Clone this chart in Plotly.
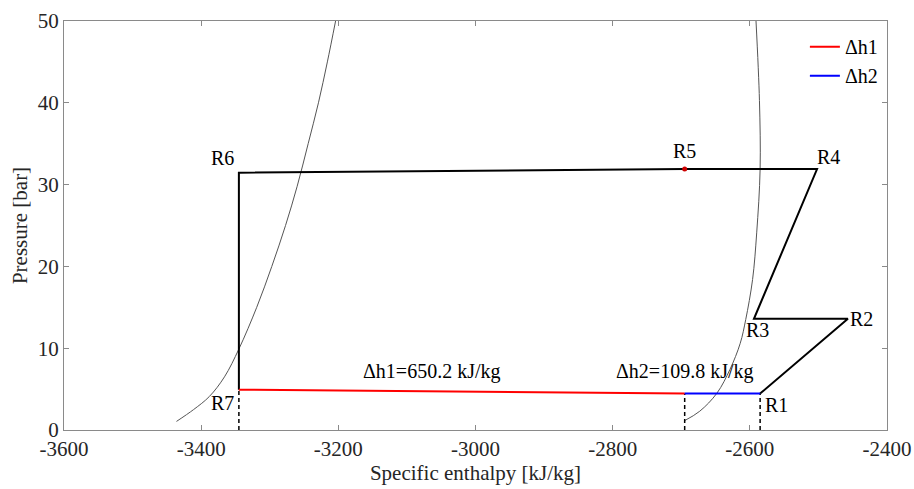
import plotly.graph_objects as go

# Refrigeration cycle state points (specific enthalpy kJ/kg, pressure bar)
state_names = ["R1", "R2", "R3", "R4", "R5", "R6", "R7"]
state_h = [-2585, -2457, -2594, -2502, -2695, -3345, -3345]
state_p = [4.45, 13.6, 13.6, 31.9, 31.9, 31.45, 4.93]

# Saturation dome: liquid (left) and vapour (right) lines
liq_h = [-3436, -3411, -3388, -3366, -3345, -3319, -3297, -3277, -3260, -3244, -3229, -3216, -3204]
liq_p = [1.05, 2.5, 4.1, 6.5, 9.9, 15.0, 20.0, 25.0, 29.8, 35.0, 40.0, 45.0, 50.0]
vap_h = [-2696, -2673, -2648, -2629, -2614, -2606, -2596, -2590, -2585, -2586, -2591]
vap_p = [1.1, 2.3, 4.5, 7.4, 10.6, 13.5, 18.4, 24.1, 31.9, 40.3, 50.0]

# Enthalpy differences
dh1_h = [-3345, -2695]
dh1_p = [4.93, 4.45]
dh2_h = [-2695, -2585]
dh2_p = [4.45, 4.45]
dh_labels = ["\u0394h1=650.2 kJ/kg", "\u0394h2=109.8 kJ/kg"]

x_ticks = [-3600, -3400, -3200, -3000, -2800, -2600, -2400]
y_ticks = [0, 10, 20, 30, 40, 50]

FONT = "Liberation Serif"
TXT = "#262626"

fig = go.Figure()

fig.add_trace(go.Scatter(x=liq_h, y=liq_p, mode="lines", line_shape="spline",
                         line=dict(color="#555555", width=1), showlegend=False, hoverinfo="skip"))
fig.add_trace(go.Scatter(x=vap_h, y=vap_p, mode="lines", line_shape="spline",
                         line=dict(color="#555555", width=1), showlegend=False, hoverinfo="skip"))

# cycle lines R1 -> R7
fig.add_trace(go.Scatter(x=state_h, y=state_p, mode="lines",
                         line=dict(color="black", width=2), showlegend=False))

# dashed verticals
for hx, py in [(state_h[6], state_p[6]), (dh2_h[0], dh2_p[0]), (state_h[0], state_p[0])]:
    fig.add_trace(go.Scatter(x=[hx, hx], y=[0, py], mode="lines",
                             line=dict(color="black", width=1.5, dash="4px,3px"), showlegend=False))

fig.add_trace(go.Scatter(x=dh1_h, y=dh1_p, mode="lines", name="\u0394h1",
                         line=dict(color="#ff0000", width=2)))
fig.add_trace(go.Scatter(x=dh2_h, y=dh2_p, mode="lines", name="\u0394h2",
                         line=dict(color="#0000ff", width=2)))

# R5 marker
fig.add_trace(go.Scatter(x=[state_h[4]], y=[state_p[4]], mode="markers",
                         marker=dict(color="#cc0000", size=5), showlegend=False))

# state labels: (xshift, yshift, xanchor, yanchor)
label_pos = {
    "R1": (3, 2, "left", "top"),
    "R2": (0, 0, "left", "middle"),
    "R3": (-10, 2, "left", "top"),
    "R4": (-2, -1, "left", "bottom"),
    "R5": (0, 5, "center", "bottom"),
    "R6": (-3, 2, "right", "bottom"),
    "R7": (-3, 0, "right", "top"),
}
for name, hx, py in zip(state_names, state_h, state_p):
    dx, dy, xa, ya = label_pos[name]
    fig.add_annotation(x=hx, y=py, text=name, showarrow=False, xshift=dx, yshift=dy,
                       xanchor=xa, yanchor=ya, font=dict(family=FONT, size=20, color="black"))

fig.add_annotation(x=-3064, y=dh1_p[0], text=dh_labels[0], showarrow=False,
                   yanchor="bottom", yshift=5, font=dict(family=FONT, size=20, color="black"))
fig.add_annotation(x=dh2_h[0], y=dh2_p[0], text=dh_labels[1], showarrow=False,
                   xanchor="center", yanchor="bottom", yshift=9, font=dict(family=FONT, size=20, color="black"))

axis_common = dict(showline=True, linecolor="#8a8a8a", linewidth=1, mirror="ticks",
                   ticks="inside", ticklen=5, tickcolor="#8a8a8a", showgrid=False, zeroline=False,
                   automargin=False, tickfont=dict(family=FONT, size=21, color=TXT))

fig.update_xaxes(range=[-3600, -2400], tickvals=x_ticks, ticktext=[str(v) for v in x_ticks],
                 title=dict(text="Specific enthalpy [kJ/kg]", font=dict(family=FONT, size=21, color=TXT), standoff=0),
                 **axis_common)
fig.update_yaxes(range=[0, 50], tickvals=y_ticks, ticktext=[str(v) for v in y_ticks],
                 title=dict(text="Pressure [bar]", font=dict(family=FONT, size=21, color=TXT), standoff=4),
                 **axis_common)

fig.update_layout(
    width=914, height=489,
    margin=dict(l=64, r=27, t=21, b=59),
    plot_bgcolor="white", paper_bgcolor="white",
    legend=dict(x=0.995, y=0.985, xanchor="right", yanchor="top", bgcolor="rgba(0,0,0,0)",
                font=dict(family=FONT, size=20, color="black"), itemwidth=30,
                tracegroupgap=0),
    showlegend=True,
)

fig.write_html("out.html", config={"displayModeBar": False},
               post_script="document.body.style.margin='0';document.body.style.overflow='hidden';")
